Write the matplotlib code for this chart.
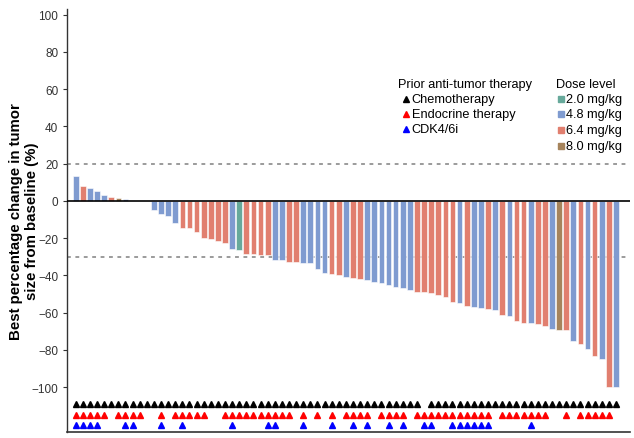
import numpy as np
import matplotlib
matplotlib.use("Agg")
import matplotlib.pyplot as plt

plt.rcParams['font.family'] = ['Liberation Sans', 'DejaVu Sans']

# best % change per patient, sorted (waterfall)
change = [13.5, 7.9, 6.8, 5.4, 3.0, 2.0, 1.8, 1.0, 0.0, 0.0, 0.0,
          -4.9, -7.2, -8.3, -11.7, -14.4, -14.6, -16.8, -20.0, -20.7, -21.4,
          -22.6, -25.9, -26.2, -28.4, -28.6, -28.8, -28.8, -31.5, -31.6, -32.9,
          -32.9, -33.4, -33.6, -36.3, -38.7, -39.0, -39.7, -40.6, -41.2, -41.8,
          -42.5, -43.3, -44.1, -45.2, -46.4, -46.9, -47.8, -48.7, -49.1, -49.7,
          -50.4, -51.5, -54.2, -54.7, -56.3, -57.2, -57.6, -58.0, -58.8, -61.1,
          -61.7, -64.4, -65.5, -65.5, -66.2, -66.9, -68.7, -69.2, -69.2, -75.3,
          -76.6, -79.5, -83.1, -84.9, -100.0, -100.0]

# dose level per patient (mg/kg)
dose = [4.8, 6.4, 4.8, 4.8, 4.8, 6.4, 8.0, 4.8, 4.8, 4.8, 4.8,
        4.8, 4.8, 4.8, 4.8, 6.4, 6.4, 6.4, 6.4, 6.4, 6.4,
        6.4, 4.8, 2.0, 6.4, 6.4, 6.4, 6.4, 4.8, 4.8, 6.4,
        6.4, 4.8, 4.8, 4.8, 4.8, 6.4, 6.4, 4.8, 6.4, 6.4,
        4.8, 4.8, 4.8, 4.8, 4.8, 4.8, 4.8, 6.4, 6.4, 6.4,
        6.4, 6.4, 6.4, 4.8, 6.4, 4.8, 4.8, 6.4, 4.8, 6.4,
        4.8, 6.4, 6.4, 4.8, 6.4, 6.4, 4.8, 8.0, 6.4, 4.8,
        6.4, 4.8, 6.4, 4.8, 6.4, 4.8]

# prior therapy (patient indices)
no_chemo = [49]
endocrine = [0, 1, 2, 3, 4, 6, 7, 8, 9, 12, 14, 15, 16, 17, 18, 21, 22, 23, 24, 25,
             26, 27, 28, 29, 30, 32, 34, 36, 38, 39, 40, 41, 43, 44, 45, 46, 48, 49,
             50, 51, 52, 53, 54, 55, 56, 57, 58, 60, 61, 62, 63, 64, 65, 66, 69,
             71, 72, 73, 74, 75]
cdk46 = [0, 1, 2, 3, 7, 8, 12, 15, 22, 27, 28, 32, 36, 39, 41, 44, 46, 49, 50,
         53, 54, 55, 56, 57, 58, 64]

dose_colors = {2.0: '#67a99b', 4.8: '#7f9bd0', 6.4: '#e17f6f', 8.0: '#a6845c'}
dose_labels = ['2.0 mg/kg', '4.8 mg/kg', '6.4 mg/kg', '8.0 mg/kg']

n = len(change)
x = np.arange(n)
chemo = [i for i in range(n) if i not in no_chemo]

fig = plt.figure(figsize=(6.34, 4.39), dpi=100)
ax = fig.add_axes([0.106, 0.014, 0.888, 0.963])

ax.bar(x, change, width=0.8, color=[dose_colors[d] for d in dose],
       edgecolor='white', linewidth=0.4, zorder=2)

ax.axhline(0, color='black', lw=1.2, zorder=3)
ax.axhline(20, color='grey', lw=1.1, ls=(0, (2.5, 3)), zorder=1)
ax.axhline(-30, color='grey', lw=1.1, ls=(0, (2.5, 3)), zorder=1)

ax.plot(chemo, [-109] * len(chemo), '^', color='black', ms=5, ls='none')
ax.plot(endocrine, [-114.7] * len(endocrine), '^', color='red', ms=5, ls='none')
ax.plot(cdk46, [-120.5] * len(cdk46), '^', color='blue', ms=5, ls='none')

ax.set_xlim(-1.2, 78)
ax.set_ylim(-124, 103)
ax.set_yticks(np.arange(-100, 101, 20))
ax.set_xticks([])
ax.tick_params(axis='y', labelsize=8.5, length=3, width=0.8, colors='#333333')
for s in ['top', 'right']:
    ax.spines[s].set_visible(False)
ax.spines['left'].set_linewidth(1.0)
ax.spines['left'].set_color('#333333')
ax.spines['bottom'].set_linewidth(1.2)
ax.spines['bottom'].set_color('#333333')
ax.set_ylabel('Best percentage change in tumor\nsize from baseline (%)',
              fontsize=10.8, fontweight='bold', linespacing=1.15)
ax.yaxis.set_label_coords(-0.05, 0.5)

# legends
tf = ax.transAxes
fs = 9.2
ax.text(0.588, 0.823, 'Prior anti-tumor therapy', transform=tf, fontsize=fs, va='center')
for yy, c, lab in [(0.787, 'black', 'Chemotherapy'), (0.752, 'red', 'Endocrine therapy'),
                   (0.716, 'blue', 'CDK4/6i')]:
    ax.plot([0.602], [yy], '^', color=c, ms=4, transform=tf, clip_on=False)
    ax.text(0.612, yy, lab, transform=tf, fontsize=fs, va='center')

ax.text(0.869, 0.823, 'Dose level', transform=tf, fontsize=fs, va='center')
for yy, d, lab in zip([0.787, 0.752, 0.714, 0.676], [2.0, 4.8, 6.4, 8.0], dose_labels):
    ax.plot([0.877], [yy], 's', color=dose_colors[d], ms=4, transform=tf, clip_on=False)
    ax.text(0.886, yy, lab, transform=tf, fontsize=fs, va='center')

fig.savefig('out.png', dpi=100)
